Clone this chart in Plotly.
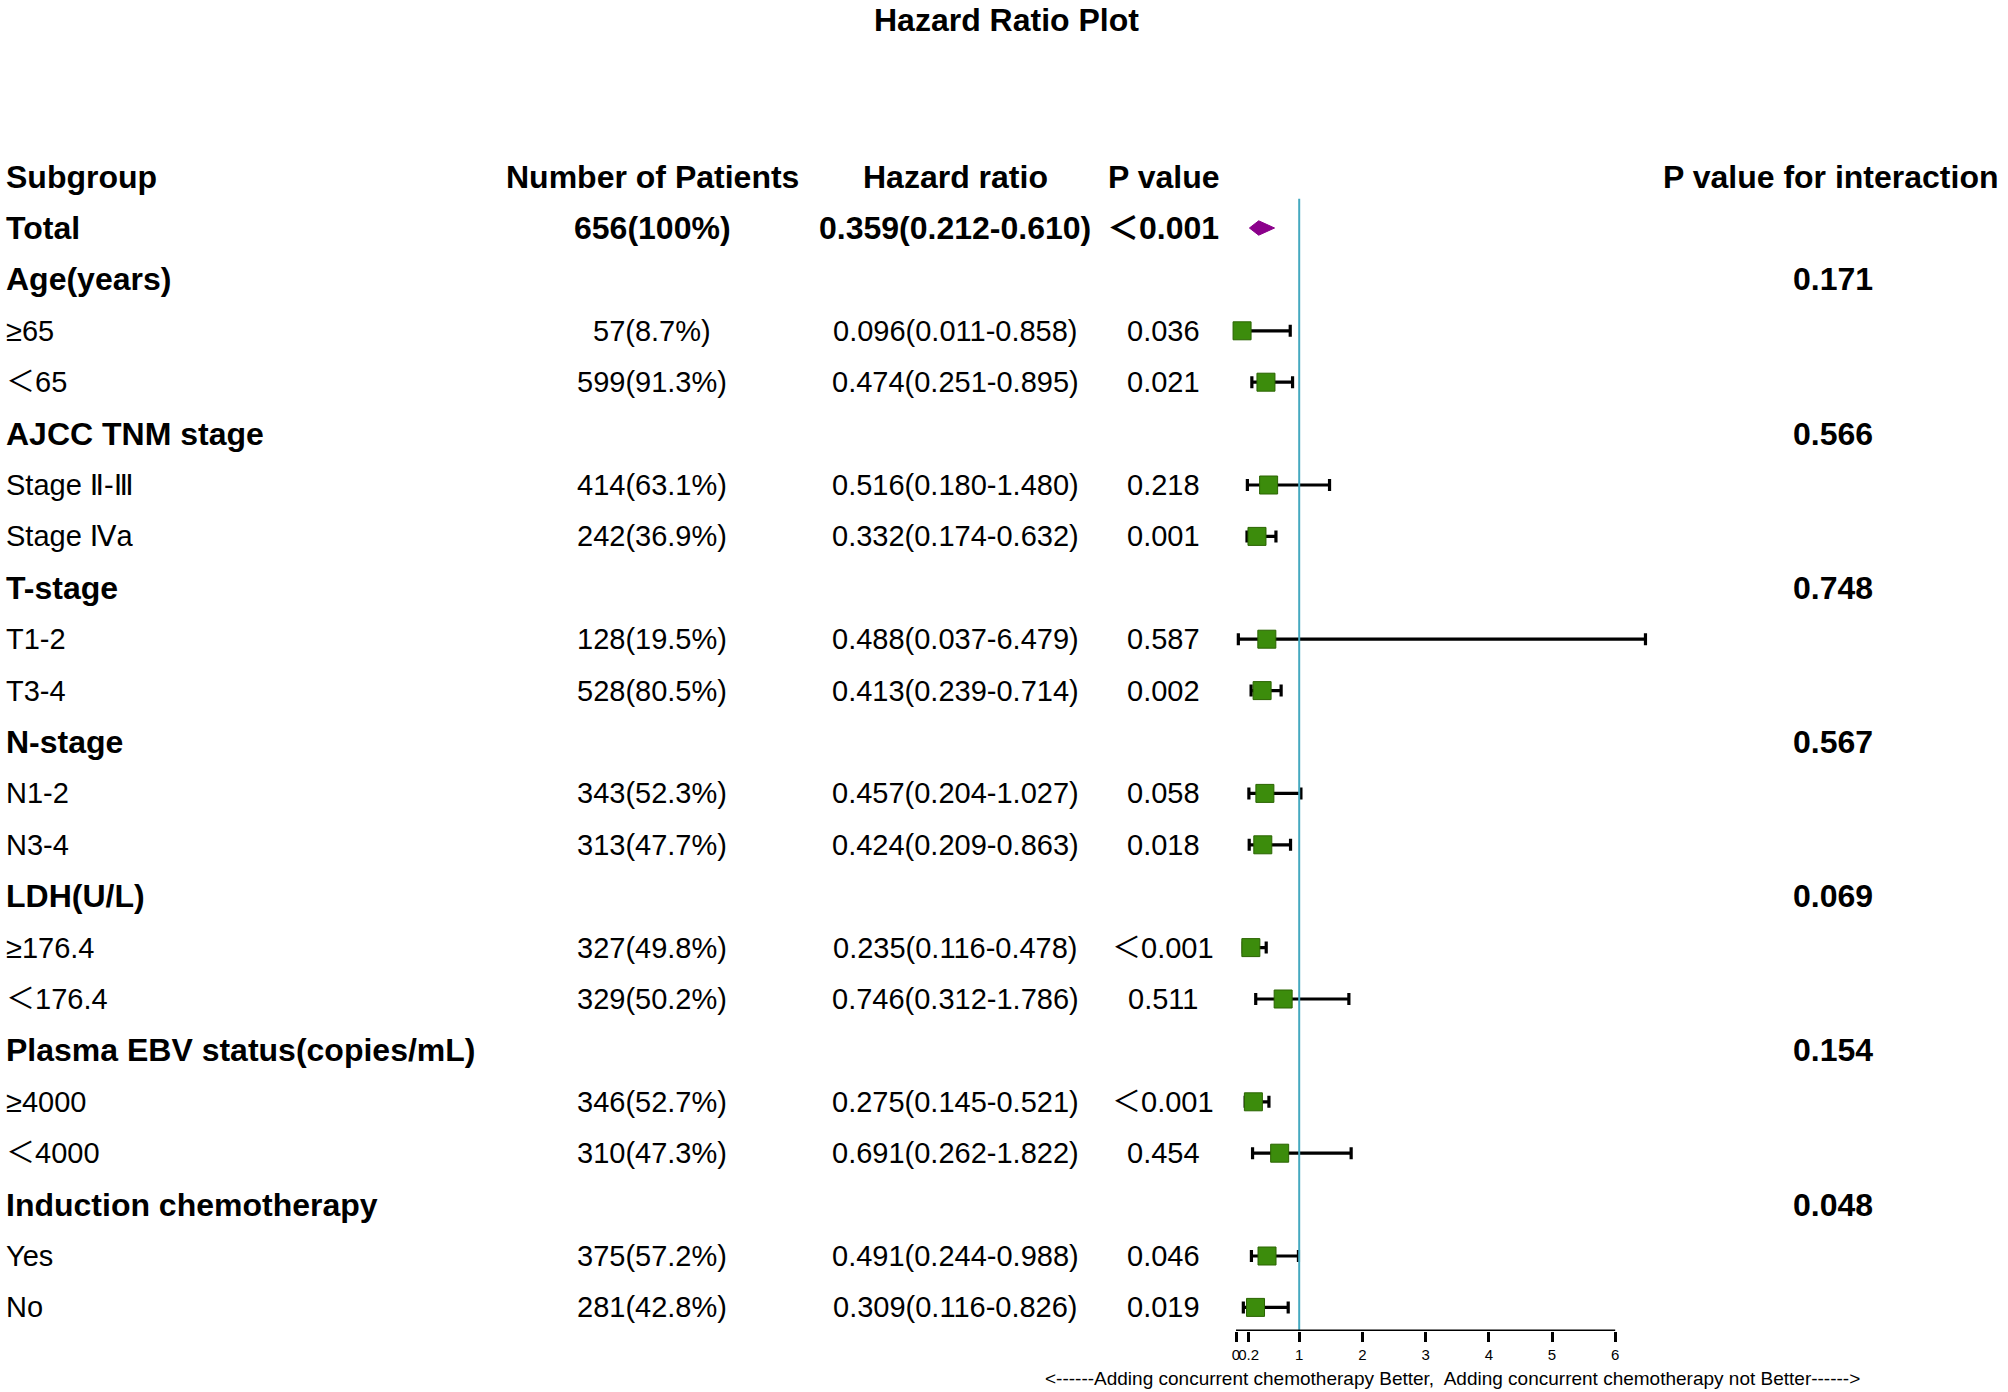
import plotly.graph_objects as go

# rows of the forest table, top to bottom
labels = ["Total", "Age(years)", "≥65", "＜65", "AJCC TNM stage", "Stage Ⅱ-Ⅲ", "Stage Ⅳa",
          "T-stage", "T1-2", "T3-4", "N-stage", "N1-2", "N3-4", "LDH(U/L)", "≥176.4", "＜176.4",
          "Plasma EBV status(copies/mL)", "≥4000", "＜4000", "Induction chemotherapy", "Yes", "No"]
is_header = [True, True, False, False, True, False, False, True, False, False, True, False, False,
             True, False, False, True, False, False, True, False, False]
patients = ["656(100%)", "", "57(8.7%)", "599(91.3%)", "", "414(63.1%)", "242(36.9%)", "",
            "128(19.5%)", "528(80.5%)", "", "343(52.3%)", "313(47.7%)", "", "327(49.8%)",
            "329(50.2%)", "", "346(52.7%)", "310(47.3%)", "", "375(57.2%)", "281(42.8%)"]
hr = [0.359, None, 0.096, 0.474, None, 0.516, 0.332, None, 0.488, 0.413, None, 0.457, 0.424,
      None, 0.235, 0.746, None, 0.275, 0.691, None, 0.491, 0.309]
ci_low = [0.212, None, 0.011, 0.251, None, 0.180, 0.174, None, 0.037, 0.239, None, 0.204, 0.209,
          None, 0.116, 0.312, None, 0.145, 0.262, None, 0.244, 0.116]
ci_high = [0.610, None, 0.858, 0.895, None, 1.480, 0.632, None, 6.479, 0.714, None, 1.027, 0.863,
           None, 0.478, 1.786, None, 0.521, 1.822, None, 0.988, 0.826]
pvals = ["＜0.001", "", "0.036", "0.021", "", "0.218", "0.001", "", "0.587", "0.002", "", "0.058",
         "0.018", "", "＜0.001", "0.511", "", "＜0.001", "0.454", "", "0.046", "0.019"]
p_inter = ["", "0.171", "", "", "0.566", "", "", "0.748", "", "", "0.567", "", "", "0.069", "", "",
           "0.154", "", "", "0.048", "", ""]
col_heads = ["Subgroup", "Number of Patients", "Hazard ratio", "P value", "P value for interaction"]
tick_vals = [0, 0.2, 1, 2, 3, 4, 5, 6]
tick_text = ["0", "0.2", "1", "2", "3", "4", "5", "6"]

W, H = 2008, 1392
FONT = "Liberation Sans, Arial, DejaVu Sans, Noto Sans CJK SC, sans-serif"
row_top, row_h = 228, 51.4          # pixel centre of first row, row spacing
axis_pix = 1331                     # pixel of the x axis line
y_top = -row_top / row_h
y_bot = (axis_pix - row_top) / row_h
x0_pix, unit = 1236, 63.2           # pixel of HR=0, pixels per HR unit

fig = go.Figure()

# subgroup squares with CI whiskers
idx = [i for i in range(1, len(labels)) if hr[i] is not None]
fig.add_trace(go.Scatter(
    x=[hr[i] for i in idx], y=idx, mode="markers",
    marker=dict(symbol="square", size=18, color="#3C8C0C", line=dict(color="#2A6400", width=1)),
    error_x=dict(type="data", symmetric=False,
                 array=[ci_high[i] - hr[i] for i in idx],
                 arrayminus=[hr[i] - ci_low[i] for i in idx],
                 color="black", thickness=3.2, width=6),
    hoverinfo="skip", showlegend=False))

# total diamond spanning the CI
dh = 0.14
fig.add_trace(go.Scatter(
    x=[ci_low[0], hr[0], ci_high[0], hr[0], ci_low[0]], y=[0, -dh, 0, dh, 0],
    mode="lines", fill="toself", fillcolor="#8B008B", line=dict(color="#8B008B", width=1),
    hoverinfo="skip", showlegend=False))

ann = []


def txt(x, y, s, bold=False, anchor="center", size=None, yref="y"):
    ann.append(dict(x=x / W, xref="paper", y=y, yref=yref, text=s, showarrow=False,
                    xanchor=anchor, yanchor="middle",
                    font=dict(family=FONT, size=size or (32 if bold else 29), color="black",
                              weight="bold" if bold else "normal")))


# column headers
txt(4, -1, col_heads[0], True, "left")
txt(652, -1, col_heads[1], True)
txt(955, -1, col_heads[2], True)
txt(1163, -1, col_heads[3], True)
txt(1661, -1, col_heads[4], True, "left")

for i, lab in enumerate(labels):
    b = is_header[i]
    txt(4, i, lab, b, "left")
    if patients[i]:
        txt(652, i, patients[i], i == 0)
    if hr[i] is not None:
        txt(955, i, "%.3f(%.3f-%.3f)" % (hr[i], ci_low[i], ci_high[i]), i == 0)
    if pvals[i]:
        txt(1163, i, pvals[i], i == 0)
    if p_inter[i]:
        txt(1833, i, p_inter[i], True)

# title and direction note
txt(1006, 1 - 20 / H, "Hazard Ratio Plot", True, size=32, yref="paper")
txt(1452, 1 - 1378 / H,
    "<------Adding concurrent chemotherapy Better,\u00a0 Adding concurrent chemotherapy not Better------>",
    size=19, yref="paper")

shapes = [
    dict(type="line", xref="x", yref="y", x0=1, x1=1, y0=-0.57, y1=y_bot,
         line=dict(color="#45A9C0", width=2)),
    dict(type="line", xref="x", yref="y", x0=0, x1=6, y0=y_bot, y1=y_bot,
         line=dict(color="black", width=3)),
]

fig.update_layout(
    width=W, height=H, margin=dict(l=0, r=0, t=0, b=0),
    paper_bgcolor="white", plot_bgcolor="white",
    annotations=ann, shapes=shapes,
    xaxis=dict(range=[-x0_pix / unit, (W - x0_pix) / unit], domain=[0, 1],
               tickvals=tick_vals, ticktext=tick_text, ticks="outside", ticklen=10,
               tickwidth=3, tickcolor="black", tickangle=0, showgrid=False, zeroline=False,
               showline=False, tickfont=dict(family=FONT, size=15, color="black")),
    yaxis=dict(range=[y_bot, y_top], domain=[1 - axis_pix / H, 1], visible=False,
               showgrid=False, zeroline=False),
)

fig.write_html("out.html", config={"displayModeBar": False},
               post_script="document.body.style.margin='0px';")
